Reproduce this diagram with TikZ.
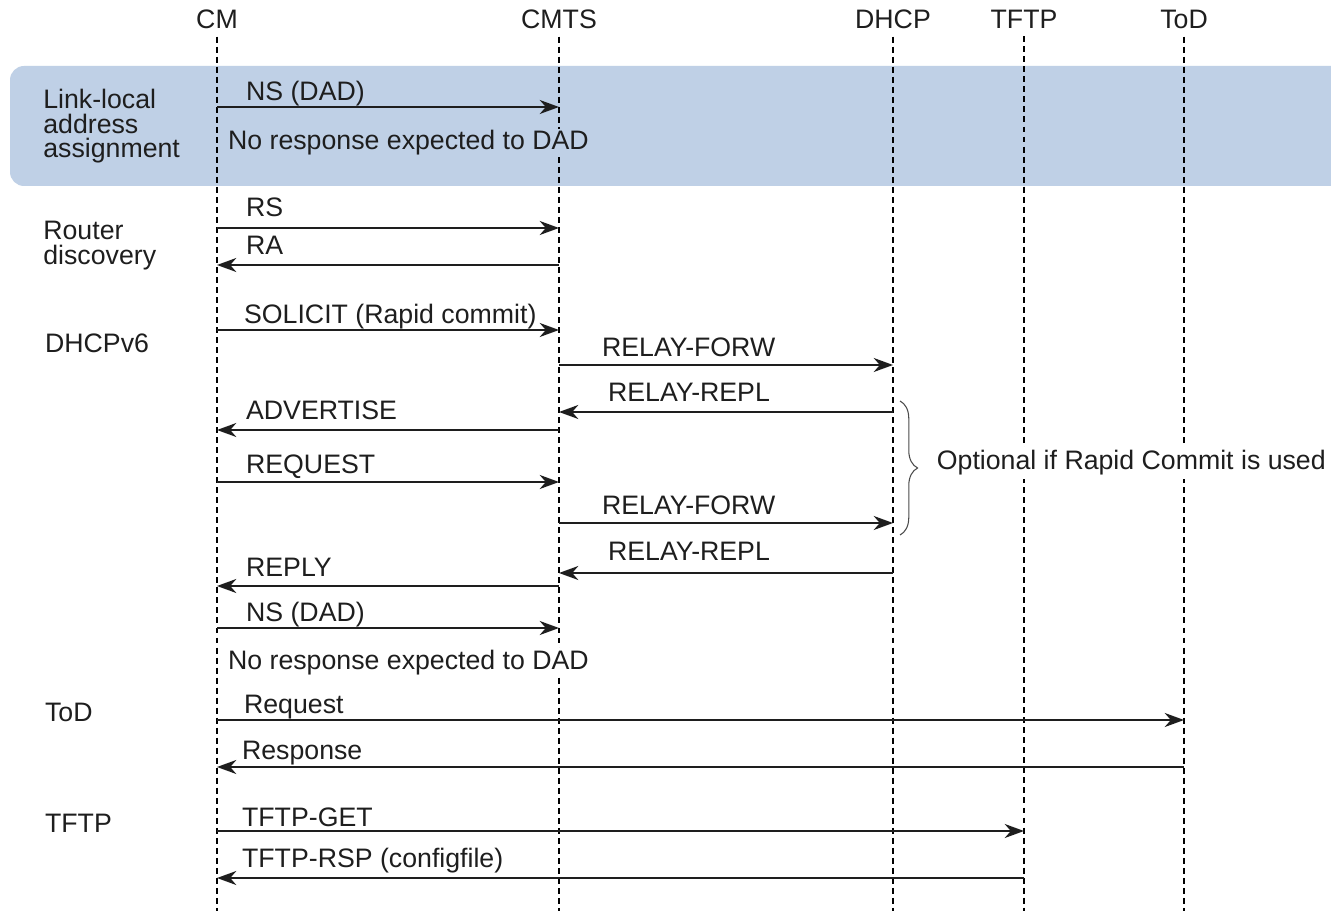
\documentclass[tikz,border=0pt]{standalone}
\usepackage{fontspec}
\setmainfont{Liberation Sans}
\usepackage{xcolor}
\usepackage{tikz}
\usetikzlibrary{positioning,arrows.meta,decorations.pathreplacing}
\definecolor{bandblue}{RGB}{191,208,230}
\definecolor{ink}{RGB}{30,30,30}

\begin{document}
\begin{tikzpicture}
[x=0.02cm, y=-0.02cm, font=\fontsize{15.2}{14}\selectfont,
    every node/.style={text=ink, inner sep=1pt},
    head/.style={anchor=base, inner sep=4pt},
    lifeline/.style={draw=black, line width=0.6pt, dash pattern=on 3.4pt off 2.3pt},
    msg/.style={draw=ink, line width=0.9pt, -{Stealth[length=11pt,width=8pt,inset=3.5pt]}},
    lbl/.style={anchor=base west},
    phase/.style={anchor=north west, align=left, inner sep=0pt},
    brace/.style={draw=ink!80, line width=0.6pt, decorate, decoration={brace, amplitude=10pt}}
    ]
    \clip (0,0) rectangle (1331,911);
    \fill[white] (0,0) rectangle (1331,911);
    \coordinate (bot) at (0,911);

    % link-local band
    \fill[bandblue, rounded corners=8pt] (10,66) rectangle (1370,186);

    % lifelines
    \node[head] (cm) at (217,29) {CM};
    \node[head] (cmts) at (559,29) {CMTS};
    \node[head] (dhcp) at (893,29) {DHCP};
    \node[head] (tftp) at (1024,29) {TFTP};
    \node[head] (tod) at (1184,29) {ToD};
    \foreach \n in {cm,cmts,dhcp,tftp,tod}
        \draw[lifeline] (\n.south) -- (\n |- bot);

    % phases
    \node[phase] (linklocal) at (43,89) {Link-local\\address\\assignment};
    \node[phase] (router) at (43,221) {Router\\discovery};
    \node[lbl] (dhcpv6) at (43,353) {DHCPv6};
    \node[lbl] (todph) at (43,721) {ToD};
    \node[lbl] (tftpph) at (43,832) {TFTP};

    % messages
    \draw[msg] (cm |- 0,107) -- (cmts |- 0,107);
    \node[lbl] (ns1) at (244,101) {NS (DAD)};
    \node[lbl, fill=bandblue] (nores1) at (226,150) {No response expected to DAD};

    \draw[msg] (cm |- 0,228) -- (cmts |- 0,228);
    \node[lbl] (rs) at (244,217) {RS};
    \draw[msg] (cmts |- 0,265) -- (cm |- 0,265);
    \node[lbl] (ra) at (244,255) {RA};

    \draw[msg] (cm |- 0,330) -- (cmts |- 0,330);
    \node[lbl] (solicit) at (242,324) {SOLICIT (Rapid commit)};
    \draw[msg] (cmts |- 0,365) -- (dhcp |- 0,365);
    \node[lbl] (fw1) at (600,357) {RELAY-FORW};
    \draw[msg] (dhcp |- 0,412) -- (cmts |- 0,412);
    \node[lbl] (rp1) at (606,402) {RELAY-REPL};
    \draw[msg] (cmts |- 0,430) -- (cm |- 0,430);
    \node[lbl] (adv) at (244,420) {ADVERTISE};
    \draw[msg] (cm |- 0,482) -- (cmts |- 0,482);
    \node[lbl] (req) at (244,474) {REQUEST};
    \draw[msg] (cmts |- 0,523) -- (dhcp |- 0,523);
    \node[lbl] (fw2) at (600,515) {RELAY-FORW};
    \draw[msg] (dhcp |- 0,573) -- (cmts |- 0,573);
    \node[lbl] (rp2) at (606,561) {RELAY-REPL};
    \draw[msg] (cmts |- 0,586) -- (cm |- 0,586);
    \node[lbl] (reply) at (244,576) {REPLY};

    \draw[msg] (cm |- 0,628) -- (cmts |- 0,628);
    \node[lbl] (ns2) at (244,621) {NS (DAD)};
    \node[lbl, fill=white] (nores2) at (226,669) {No response expected to DAD};

    \draw[msg] (cm |- 0,720) -- (tod |- 0,720);
    \node[lbl] (todreq) at (242,713) {Request};
    \draw[msg] (tod |- 0,767) -- (cm |- 0,767);
    \node[lbl] (todrsp) at (240,759) {Response};

    \draw[msg] (cm |- 0,831) -- (tftp |- 0,831);
    \node[lbl] (get) at (240,826) {TFTP-GET};
    \draw[msg] (tftp |- 0,878) -- (cm |- 0,878);
    \node[lbl] (rsp) at (240,867) {TFTP-RSP (configfile)};

    % optional part
    \draw[brace] (900,401) -- (900,535);
    \node[lbl, fill=white, inner sep=2pt] (optional) at (933,470) {Optional if Rapid Commit is used};
\end{tikzpicture}
\end{document}
